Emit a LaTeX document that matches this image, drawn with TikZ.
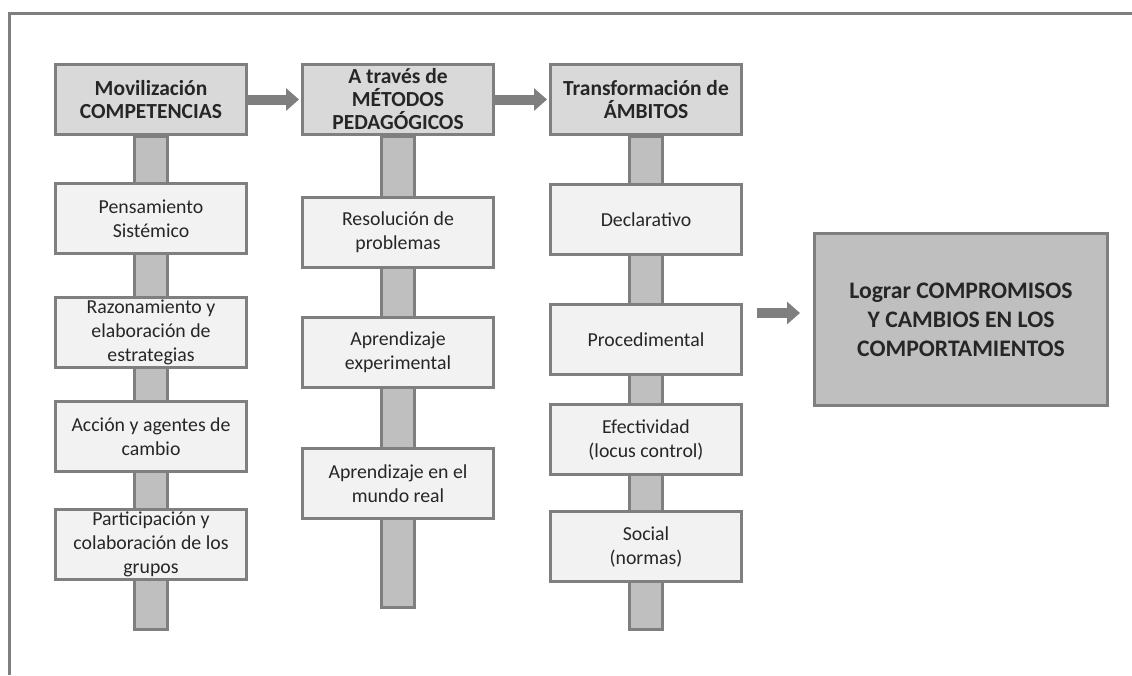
\documentclass[tikz,border=0pt]{standalone}
\usepackage{fontspec}
\setmainfont{Carlito}
\usetikzlibrary{arrows.meta,backgrounds,calc,positioning}
\definecolor{edgegray}{HTML}{7F7F7F}
\definecolor{headfill}{HTML}{D9D9D9}
\definecolor{itemfill}{HTML}{F2F2F2}
\definecolor{stemfill}{HTML}{BFBFBF}
\definecolor{txt}{HTML}{262626}

\begin{document}
\begin{tikzpicture}[x=1pt, y=-1pt,
    header/.style={draw=edgegray, line width=3pt, fill=headfill, text=txt,
      font=\bfseries\fontsize{21.5}{23}\selectfont, align=center,
      minimum width=191pt, minimum height=70pt, inner sep=0pt},
    item/.style={draw=edgegray, line width=3pt, fill=itemfill, text=txt,
      font=\fontsize{19.8}{24}\selectfont, align=center,
      minimum width=191pt, minimum height=70pt, inner sep=1pt},
    stem/.style={draw=edgegray, line width=3pt, fill=stemfill},
    bigarrow/.style={draw=edgegray, line width=10pt,
      -{Triangle[length=13pt,width=22pt]}}]
    \useasboundingbox (0,0) rectangle (1132,675);

    % frame
    \draw [edgegray, line width=3pt] (1132,13) -- (9,13) -- (9,675);

    % headers
    \node (movil) [header] at (151,99.5) {Movilización\\COMPETENCIAS};
    \node (metodos) [header, right=53pt of movil] {A través de\\MÉTODOS\\PEDAGÓGICOS};
    \node (ambitos) [header, right=54pt of metodos] {Transformación de\\ÁMBITOS};

    % competencias
    \node (pensam) [item, below=46pt of movil] {Pensamiento\\Sistémico};
    \node (razon) [item, below=41pt of pensam] {Razonamiento y\\elaboración de\\estrategias};
    \node (accion) [item, below=31pt of razon] {Acción y agentes de\\cambio};
    \node (partic) [item, below=35pt of accion] {Participación y\\colaboración de los\\grupos};

    % metodos
    \node (resol) [item, below=60pt of metodos] {Resolución de\\problemas};
    \node (experim) [item, below=47pt of resol] {Aprendizaje\\experimental};
    \node (mundo) [item, below=58pt of experim] {Aprendizaje en el\\mundo real};

    % ambitos
    \node (declar) [item, below=47pt of ambitos] {Declarativo};
    \node (proced) [item, below=47pt of declar] {Procedimental};
    \node (efect) [item, below=27pt of proced] {Efectividad\\(locus control)};
    \node (social) [item, below=34pt of efect] {Social\\(normas)};

    % goal
    \node (logro) [draw=edgegray, line width=3pt, fill=stemfill, text=txt,
      font=\bfseries\fontsize{23.7}{29}\selectfont, align=center,
      minimum width=293pt, minimum height=172pt] at (961,319.5)
      {Lograr COMPROMISOS\\Y CAMBIOS EN LOS\\COMPORTAMIENTOS};

    % stems
    \coordinate (movilend) at (movil |- 0,629.5);
    \coordinate (metodosend) at (metodos |- 0,607.5);
    \coordinate (ambitosend) at (ambitos |- 0,629.5);
    \begin{scope}[on background layer]
      \draw [stem] ($(movil.south)+(-16.5,0)$) rectangle ($(movilend)+(16.5,0)$);
      \draw [stem] ($(metodos.south)+(-16.5,0)$) rectangle ($(metodosend)+(16.5,0)$);
      \draw [stem] ($(ambitos.south)+(-16.5,0)$) rectangle ($(ambitosend)+(16.5,0)$);
    \end{scope}

    % arrows
    \draw [bigarrow, shorten >=2pt] (movil) -- (metodos);
    \draw [bigarrow, shorten >=2pt] (metodos) -- (ambitos);
    \coordinate (logroin) at (757,313);
    \draw [bigarrow, shorten >=13pt] (logroin) -- (logroin -| logro.west);
\end{tikzpicture}
\end{document}
